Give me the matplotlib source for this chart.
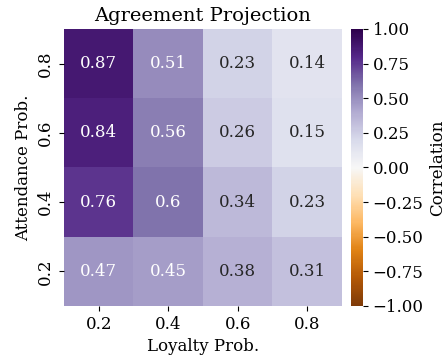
import numpy as np
import matplotlib
matplotlib.use("Agg")
import matplotlib.pyplot as plt
import seaborn as sns

plt.rcParams['font.family'] = 'DejaVu Serif'
plt.rcParams['font.size'] = 12

loyalty_probs = ["0.2", "0.4", "0.6", "0.8"]
attendance_probs = ["0.8", "0.6", "0.4", "0.2"]
correlation = np.array([
    [0.87, 0.51, 0.23, 0.14],
    [0.84, 0.56, 0.26, 0.15],
    [0.76, 0.60, 0.34, 0.23],
    [0.47, 0.45, 0.38, 0.31],
])

fig = plt.figure(figsize=(4.47, 3.62), dpi=100)
ax = fig.add_axes([0.143, 0.155, 0.622, 0.765])
cax = fig.add_axes([0.785, 0.155, 0.027, 0.765])

sns.heatmap(correlation, ax=ax, cbar_ax=cax, cmap="PuOr", vmin=-1, vmax=1,
            annot=True, fmt=".2g", annot_kws={"size": 12},
            xticklabels=loyalty_probs, yticklabels=attendance_probs,
            cbar_kws={"label": "Correlation"})

ax.set_title("Agreement Projection", fontsize=14)
ax.set_xlabel("Loyalty Prob.")
ax.set_ylabel("Attendance Prob.")
ax.tick_params(axis='y', rotation=90)
cax.set_yticks([-1, -0.75, -0.5, -0.25, 0, 0.25, 0.5, 0.75, 1])
cax.set_yticklabels([f"{t:.2f}".replace("-", "\u2212") for t in cax.get_yticks()])

fig.savefig("out.png", dpi=100)
